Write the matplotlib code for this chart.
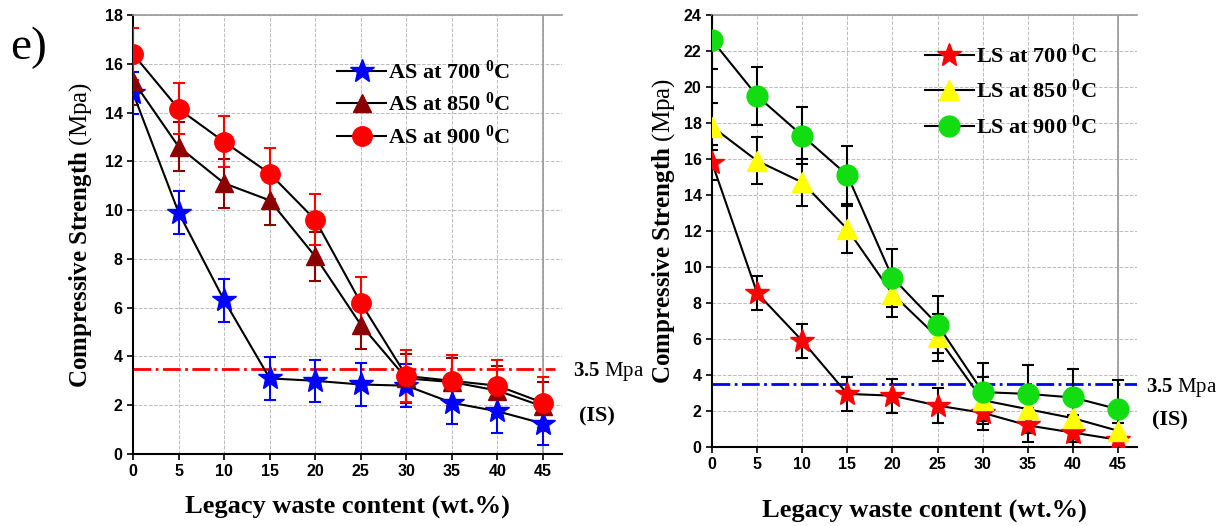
import matplotlib
matplotlib.use("Agg")
import matplotlib.pyplot as plt
from matplotlib.lines import Line2D

plt.rcParams['mathtext.fontset'] = 'custom'
plt.rcParams['mathtext.rm'] = 'Liberation Serif'
plt.rcParams['mathtext.bf'] = 'Liberation Serif:bold'
plt.rcParams['mathtext.it'] = 'Liberation Serif:italic'

# data
waste = [0, 5, 10, 15, 20, 25, 30, 35, 40, 45]

as_700 = [14.8, 9.9, 6.3, 3.1, 3.0, 2.85, 2.8, 2.1, 1.75, 1.25]
as_850 = [15.3, 12.6, 11.1, 10.4, 8.1, 5.3, 3.1, 2.95, 2.6, 1.95]
as_900 = [16.4, 14.15, 12.8, 11.5, 9.6, 6.2, 3.2, 3.0, 2.8, 2.1]
as_700_err = [0.87] * 10
as_850_err = [1.0] * 10
as_900_err = [1.05] * 10

ls_700 = [15.8, 8.55, 5.9, 2.95, 2.85, 2.3, 1.9, 1.2, 0.8, 0.4]
ls_850 = [17.8, 15.9, 14.7, 12.1, 8.5, 6.1, 2.6, 2.1, 1.6, 0.9]
ls_900 = [22.6, 19.5, 17.3, 15.1, 9.4, 6.8, 3.05, 2.95, 2.75, 2.1]
ls_700_err = [0.95] * 10
ls_850_err = [1.3] * 10
ls_900_err = [1.6] * 10

limit = 3.5

serif = 'Liberation Serif'
sans = 'Liberation Sans'

fig = plt.figure(figsize=(12.23, 5.26), dpi=100)
ax1 = fig.add_axes([0.1088, 0.1369, 0.3508, 0.8346])
ax2 = fig.add_axes([0.5822, 0.1502, 0.3475, 0.8213])


def style_axes(ax, ymax, ystep, xpad, ypad):
    ax.set_xlim(0, 47.1)
    ax.set_ylim(0, ymax)
    ax.set_xticks(waste)
    ax.set_yticks(range(0, ymax + 1, ystep))
    ax.grid(True, color='#bbbbbb', linestyle='--', linewidth=0.7)
    ax.set_axisbelow(True)
    ax.spines['right'].set_visible(False)
    ax.spines['top'].set_color('#999999')
    ax.spines['top'].set_linewidth(1.2)
    ax.spines['left'].set_linewidth(1.5)
    ax.spines['bottom'].set_linewidth(1.5)
    ax.axvline(45, color='#999999', linewidth=1.2, zorder=1)
    ax.tick_params(direction='out', length=4, width=1.2, labelsize=11.5)
    for lab in ax.get_xticklabels() + ax.get_yticklabels():
        lab.set_fontfamily(sans)
        lab.set_fontweight('bold')
    ax.set_xlabel('Legacy waste content (wt.%)', fontfamily=serif,
                  fontweight='bold', fontsize=19, labelpad=xpad)
    ax.set_ylabel(r'$\mathbf{Compressive\ Strength}$ (Mpa)', fontfamily=serif,
                  fontsize=18, labelpad=ypad)


def draw_series(ax, y, err, marker, color, ecolor, ms):
    ax.errorbar(waste, y, yerr=err, color='black', linewidth=1.5,
                marker=marker, markersize=ms, markerfacecolor=color,
                markeredgecolor=color, ecolor=ecolor, elinewidth=1.5,
                capsize=4.5, capthick=1.5, zorder=3)
    return Line2D([], [], color='black', linewidth=1.5, marker=marker,
                  markersize=ms, markerfacecolor=color, markeredgecolor=color)


def add_legend(ax, handles, labels, anchor, spacing):
    ax.legend(handles, labels, loc='upper left', bbox_to_anchor=anchor,
              frameon=False, prop={'family': serif, 'weight': 'bold', 'size': 16},
              handlelength=2.2, handletextpad=0.1, labelspacing=spacing,
              borderaxespad=0)


style_axes(ax1, 18, 2, 12, 8)
h1 = [draw_series(ax1, as_700, as_700_err, '*', 'blue', 'blue', 18),
      draw_series(ax1, as_850, as_850_err, '^', '#8b0000', '#8b0000', 13),
      draw_series(ax1, as_900, as_900_err, 'o', 'red', 'red', 14)]
ax1.hlines(limit, 0, 46.3, colors='red', linestyles='-.', linewidth=2, zorder=2)
add_legend(ax1, h1, [r'AS at 700 $^{\mathbf{0}}$C', r'AS at 850 $^{\mathbf{0}}$C',
                     r'AS at 900 $^{\mathbf{0}}$C'], (0.455, 0.917), 0.42)
ax1.text(1.025, (limit - 0.1) / 18, r'$\mathbf{3.5}$ Mpa', transform=ax1.transAxes,
         fontfamily=serif, fontsize=15, va='center', ha='left')
ax1.text(1.04, (limit - 1.95) / 18, '(IS)', transform=ax1.transAxes,
         fontfamily=serif, fontweight='bold', fontsize=16, va='center', ha='left')

style_axes(ax2, 24, 2, 20, 5)
h2 = [draw_series(ax2, ls_700, ls_700_err, '*', 'red', 'black', 18),
      draw_series(ax2, ls_850, ls_850_err, '^', 'yellow', 'black', 15),
      draw_series(ax2, ls_900, ls_900_err, 'o', '#11dd11', 'black', 15)]
ax2.hlines(limit, 0, 47.1, colors='blue', linestyles='-.', linewidth=2, zorder=2)
add_legend(ax2, h2, [r'LS at 700 $^{\mathbf{0}}$C', r'LS at 850 $^{\mathbf{0}}$C',
                     r'LS at 900 $^{\mathbf{0}}$C'], (0.48, 0.952), 0.55)
ax2.text(1.02, (limit - 0.2) / 24, r'$\mathbf{3.5}$ Mpa', transform=ax2.transAxes,
         fontfamily=serif, fontsize=15, va='center', ha='left')
ax2.text(1.035, (limit - 2.0) / 24, '(IS)', transform=ax2.transAxes,
         fontfamily=serif, fontweight='bold', fontsize=16, va='center', ha='left')

fig.text(0.008, 0.91, 'e)', fontfamily=serif, fontsize=34, va='center', ha='left')

fig.savefig('out.png', dpi=100)
